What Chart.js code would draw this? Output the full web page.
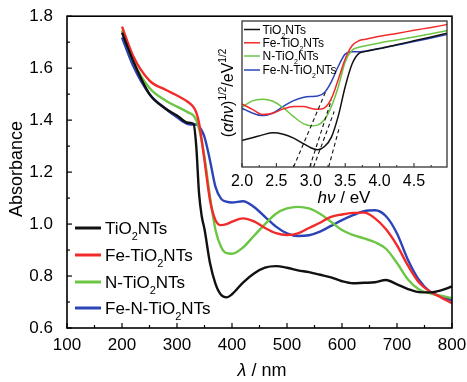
<!DOCTYPE html>
<html><head><meta charset="utf-8">
<script src="https://cdn.jsdelivr.net/npm/chart.js@4/dist/chart.umd.min.js"></script>
<style>
html,body{margin:0;padding:0;background:#fff;}
#wrap{position:relative;width:467px;height:382px;overflow:hidden;}
#main{position:absolute;left:0;top:0;}
#inset{position:absolute;left:200px;top:15px;}
</style></head><body>
<div id="wrap"><canvas id="main" width="467" height="382"></canvas><canvas id="inset" width="260" height="195"></canvas></div>
<script>
const FONT = '"Liberation Sans", Arial, sans-serif';

// ---------- data ----------
const seriesNames = ['TiO2NTs', 'Fe-TiO2NTs', 'N-TiO2NTs', 'Fe-N-TiO2NTs'];
const seriesColors = ['#111111', '#f32a2a', '#6cc644', '#2b44b8'];

const wavelength = [200,220,250,280,300,320,330,335,340,345,350,360,370,380,390,400,420,440,460,480,500,520,540,560,580,600,620,640,660,680,700,720,740,760,780,800];
const absTiO2    = [1.737,1.629,1.50,1.443,1.418,1.39,1.385,1.30,1.12,1.03,0.98,0.85,0.77,0.728,0.718,0.73,0.775,0.81,0.832,0.838,0.832,0.822,0.815,0.805,0.795,0.78,0.772,0.774,0.776,0.785,0.768,0.75,0.738,0.737,0.745,0.76];
const absFeTiO2  = [1.76,1.648,1.552,1.516,1.495,1.47,1.45,1.43,1.39,1.32,1.245,1.092,1.015,0.996,1.0,1.009,1.022,1.01,0.985,0.965,0.958,0.964,0.985,1.005,1.028,1.037,1.043,1.044,1.022,0.98,0.918,0.84,0.775,0.74,0.718,0.695];
const absNTiO2   = [1.746,1.629,1.524,1.475,1.452,1.43,1.418,1.40,1.367,1.32,1.258,1.105,0.977,0.913,0.888,0.886,0.91,0.955,1.0,1.04,1.06,1.066,1.06,1.04,1.009,0.977,0.958,0.945,0.93,0.905,0.85,0.787,0.748,0.733,0.724,0.715];
const absFeNTiO2 = [1.718,1.61,1.50,1.443,1.411,1.385,1.383,1.383,1.376,1.36,1.335,1.245,1.143,1.098,1.086,1.083,1.088,1.066,1.028,0.99,0.964,0.954,0.957,0.971,0.993,1.015,1.034,1.05,1.053,1.03,0.964,0.862,0.785,0.74,0.721,0.706];

const photonEnergy = [2.0,2.15,2.3,2.45,2.6,2.75,2.9,3.0,3.1,3.2,3.3,3.4,3.5,3.6,3.7,3.8,4.0,4.25,4.5,4.75,5.0];
const taucTiO2    = [18.2,20,22,23.5,22.5,19.8,15.8,13.2,11.8,14,20.5,35,55,70.5,77.8,79.2,81.1,83.8,86.4,89,91.8];
const taucFeTiO2  = [43.2,39.5,36,36.8,39.8,41.5,41.5,40.2,39.5,40.5,47,60,74,83,86.5,87.5,89.5,91.5,93.6,95.6,97.7];
const taucNTiO2   = [40.9,45.3,46.4,45,40.5,34.5,29.5,28.2,28.7,32.5,41.5,55,72,80,82,83,85,87,89.1,91.3,93.6];
const taucFeNTiO2 = [40.2,37,35.2,37,41.5,45.5,47.8,48.3,48.6,51,58.5,69,77.3,78.9,78.9,79.5,81.1,83.5,85.9,88.4,90.9];

const tangentFeNTiO2 = [[2.75,0],[3.22,52]];
const tangentFeTiO2  = [[2.985,0],[3.30,46]];
const tangentNTiO2   = [[3.04,0],[3.34,38]];
const tangentTiO2    = [[3.26,0],[3.42,28]];

const xTicksMain  = [100,200,300,400,500,600,700,800];
const yTicksMain  = [0.6,0.8,1.0,1.2,1.4,1.6,1.8];
const xTicksInset = [2.0,2.5,3.0,3.5,4.0,4.5];

// ---------- helpers ----------
function drawRich(ctx, parts, x, y, size, rot) {
  ctx.save();
  ctx.translate(x, y);
  if (rot) ctx.rotate(rot);
  const small = Math.round(size * 0.62);
  const fontFor = p => (p.it ? 'italic ' : '') + ((p.sub || p.sup) ? small : size) + 'px ' + FONT;
  let w = 0;
  parts.forEach(p => { ctx.font = fontFor(p); w += ctx.measureText(p.t).width; });
  let cx = -w / 2;
  ctx.textBaseline = 'alphabetic'; ctx.textAlign = 'left'; ctx.fillStyle = '#000';
  const base = size * 0.36;
  parts.forEach(p => {
    ctx.font = fontFor(p);
    const dy = p.sub ? size * 0.32 : (p.sup ? -size * 0.42 : 0);
    ctx.fillText(p.t, cx, base + dy);
    cx += ctx.measureText(p.t).width;
  });
  ctx.restore();
}
function drawLeft(ctx, parts, x, y, size) {
  ctx.save();
  const small = Math.round(size * 0.62);
  const fontFor = p => ((p.sub || p.sup) ? small : size) + 'px ' + FONT;
  ctx.textBaseline = 'alphabetic'; ctx.textAlign = 'left'; ctx.fillStyle = '#000';
  let cx = x;
  const base = size * 0.36;
  parts.forEach(p => {
    ctx.font = fontFor(p);
    const dy = p.sub ? size * 0.32 : 0;
    ctx.fillText(p.t, cx, y + base + dy);
    cx += ctx.measureText(p.t).width;
  });
  ctx.restore();
}
function nameParts(n) {
  const i = n.indexOf('2');
  return [{t: n.slice(0, i)}, {t: '2', sub: true}, {t: n.slice(i + 1)}];
}
function seg(ctx, x1, y1, x2, y2) { ctx.beginPath(); ctx.moveTo(x1, y1); ctx.lineTo(x2, y2); ctx.stroke(); }
const pts = (xs, ys) => xs.map((v, i) => ({x: v, y: ys[i]}));

// ---------- main chart ----------
const mainSeries = [absTiO2, absFeTiO2, absNTiO2, absFeNTiO2];
const mainDeco = {
  id: 'mainDeco',
  afterDraw(chart) {
    const {ctx, chartArea: a, scales: {x, y}} = chart;
    ctx.save();
    ctx.strokeStyle = '#000';
    ctx.lineWidth = 1.2;
    xTicksMain.forEach((v, i) => {
      const p = x.getPixelForValue(v);
      seg(ctx, p, a.bottom, p, a.bottom - 5);
      if (i < xTicksMain.length - 1) {
        const m = x.getPixelForValue((v + xTicksMain[i + 1]) / 2);
        seg(ctx, m, a.bottom, m, a.bottom - 3);
      }
    });
    yTicksMain.forEach((v, i) => {
      const p = y.getPixelForValue(v);
      seg(ctx, a.left, p, a.left + 5, p);
      if (i < yTicksMain.length - 1) {
        const m = y.getPixelForValue((v + yTicksMain[i + 1]) / 2);
        seg(ctx, a.left, m, a.left + 3, m);
      }
    });
    ctx.lineWidth = 1.6;
    ctx.strokeRect(a.left, a.top, a.right - a.left, a.bottom - a.top);
    // titles
    drawRich(ctx, [{t: 'λ', it: true}, {t: ' / nm'}], 262, 370, 18, 0);
    drawRich(ctx, [{t: 'Absorbance'}], 16, 169, 18, -Math.PI / 2);
    // legend
    const rows = [228, 255, 282, 308];
    seriesNames.forEach((n, i) => {
      ctx.strokeStyle = seriesColors[i];
      ctx.lineWidth = 3;
      seg(ctx, 75, rows[i], 101, rows[i]);
      drawLeft(ctx, nameParts(n), 105, rows[i], 17);
    });
    ctx.restore();
  }
};

new Chart(document.getElementById('main'), {
  type: 'line',
  data: {
    datasets: mainSeries.map((s, i) => ({
      label: seriesNames[i],
      data: pts(wavelength, s),
      borderColor: seriesColors[i],
      borderWidth: 2.4,
      pointRadius: 0,
      cubicInterpolationMode: 'monotone',
      fill: false
    }))
  },
  options: {
    responsive: false,
    animation: false,
    layout: {padding: {top: 15, right: 15, left: 0, bottom: 0}},
    plugins: {legend: {display: false}, tooltip: {enabled: false}},
    scales: {
      x: {
        type: 'linear', min: 100, max: 800,
        grid: {display: false}, border: {display: false},
        afterBuildTicks: s => { s.ticks = xTicksMain.map(v => ({value: v})); },
        afterFit: s => { s.height = 54; },
        ticks: {autoSkip: false, maxRotation: 0, padding: -1, color: '#000',
                font: {family: FONT, size: 17}, callback: v => String(v)}
      },
      y: {
        type: 'linear', min: 0.6, max: 1.8,
        grid: {display: false}, border: {display: false},
        afterBuildTicks: s => { s.ticks = yTicksMain.map(v => ({value: v})); },
        afterFit: s => { s.width = 67; },
        ticks: {autoSkip: false, padding: 6, color: '#000',
                font: {family: FONT, size: 17}, callback: v => Number(v).toFixed(1)}
      }
    }
  },
  plugins: [mainDeco]
});

// ---------- inset chart ----------
const insetSeries = [taucTiO2, taucFeTiO2, taucNTiO2, taucFeNTiO2];
const tangents = [tangentFeNTiO2, tangentFeTiO2, tangentNTiO2, tangentTiO2];
const insetDeco = {
  id: 'insetDeco',
  afterDraw(chart) {
    const {ctx, chartArea: a, scales: {x}} = chart;
    ctx.save();
    ctx.strokeStyle = '#222';
    ctx.lineWidth = 1;
    xTicksInset.forEach(v => {
      const p = x.getPixelForValue(v);
      seg(ctx, p, a.bottom, p, a.bottom - 4);
      const m = x.getPixelForValue(v + 0.25);
      seg(ctx, m, a.bottom, m, a.bottom - 2);
    });
    ctx.lineWidth = 1.3;
    ctx.strokeStyle = '#333';
    ctx.strokeRect(a.left, a.top, a.right - a.left, a.bottom - a.top);
    drawRich(ctx, [{t: 'hν', it: true}, {t: ' / eV'}], 144, 182, 17, 0);
    drawRich(ctx, [{t: '('}, {t: 'αhν', it: true}, {t: ')'}, {t: '1/2', sup: true}, {t: '/eV'}, {t: '1/2', sup: true}],
             27, 78, 16, -Math.PI / 2);
    const rows = [14.5, 27.8, 41, 55];
    seriesNames.forEach((n, i) => {
      ctx.strokeStyle = seriesColors[i];
      ctx.lineWidth = 1.5;
      seg(ctx, 44, rows[i], 60, rows[i]);
      drawLeft(ctx, nameParts(n), 62.5, rows[i], 12);
    });
    ctx.restore();
  }
};

new Chart(document.getElementById('inset'), {
  type: 'line',
  data: {
    datasets: tangents.map(t => ({
      data: t.map(p => ({x: p[0], y: p[1]})),
      borderColor: '#111', borderWidth: 1.1, borderDash: [4, 3],
      pointRadius: 0, tension: 0, fill: false
    })).concat(insetSeries.map((s, i) => ({
      label: seriesNames[i],
      data: pts(photonEnergy, s),
      borderColor: seriesColors[i],
      borderWidth: 1.5,
      pointRadius: 0,
      cubicInterpolationMode: 'monotone',
      fill: false
    })))
  },
  options: {
    responsive: false,
    animation: false,
    layout: {padding: {top: 6, right: 13, left: 42, bottom: 0}},
    plugins: {legend: {display: false}, tooltip: {enabled: false}},
    scales: {
      x: {
        type: 'linear', min: 2.0, max: 4.98,
        grid: {display: false}, border: {display: false},
        afterBuildTicks: s => { s.ticks = xTicksInset.map(v => ({value: v})); },
        afterFit: s => { s.height = 43; },
        ticks: {autoSkip: false, maxRotation: 0, padding: -3, color: '#000',
                font: {family: FONT, size: 16}, callback: v => Number(v).toFixed(1)}
      },
      y: {type: 'linear', min: 0, max: 100, display: false}
    }
  },
  plugins: [insetDeco]
});
</script>
</body></html>
